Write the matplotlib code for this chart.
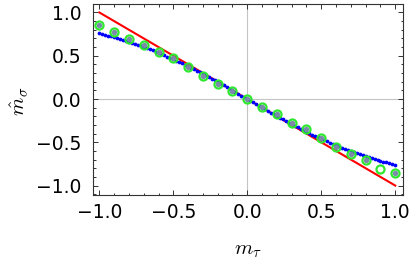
import numpy as np
import matplotlib
matplotlib.use("Agg")
import matplotlib.pyplot as plt
from matplotlib.ticker import MultipleLocator

plt.rcParams['font.family'] = ['DejaVu Sans']
plt.rcParams['mathtext.fontset'] = 'cm'

# red reference line
red_x = [-1.0, 1.0]
red_y = [1.0, -1.0]

# blue dotted curve, sampled every 0.02 from -1 to 1
blue_x = np.linspace(-1.0, 1.0, 101)
blue_y = [0.7601, 0.7512, 0.7421, 0.7327, 0.7231, 0.7133, 0.7032, 0.6929, 0.6823, 0.6714,
          0.6603, 0.6489, 0.6373, 0.6254, 0.6131, 0.6006, 0.5879, 0.5748, 0.5614, 0.5478,
          0.5339, 0.5196, 0.5051, 0.4903, 0.4752, 0.4598, 0.4441, 0.4281, 0.4118, 0.3953,
          0.3785, 0.3614, 0.3441, 0.3265, 0.3087, 0.2906, 0.2723, 0.2538, 0.2351, 0.2162,
          0.1971, 0.1779, 0.1585, 0.1390, 0.1194, 0.0996, 0.0798, 0.0599, 0.0400, 0.0200,
          0.0,
          -0.0200, -0.0400, -0.0599, -0.0798, -0.0996, -0.1194, -0.1390, -0.1585, -0.1779, -0.1971,
          -0.2162, -0.2351, -0.2538, -0.2723, -0.2906, -0.3087, -0.3265, -0.3441, -0.3614, -0.3785,
          -0.3953, -0.4118, -0.4281, -0.4441, -0.4598, -0.4752, -0.4903, -0.5051, -0.5196, -0.5339,
          -0.5478, -0.5614, -0.5748, -0.5879, -0.6006, -0.6131, -0.6254, -0.6373, -0.6489, -0.6603,
          -0.6714, -0.6823, -0.6929, -0.7032, -0.7133, -0.7231, -0.7327, -0.7421, -0.7512, -0.7601]

# green ring markers (step 0.1)
pts_x = [-1.0, -0.9, -0.8, -0.7, -0.6, -0.5, -0.4, -0.3, -0.2, -0.1, 0.0,
         0.1, 0.2, 0.3, 0.4, 0.5, 0.6, 0.7, 0.8, 0.9, 1.0]
ring_y = [0.850, 0.775, 0.696, 0.625, 0.547, 0.473, 0.374, 0.270, 0.172, 0.098, 0.0,
          -0.097, -0.178, -0.279, -0.352, -0.453, -0.555, -0.631, -0.706, -0.806, -0.852]
# gray centre dots (missing at 0.9)
dot_y = [0.850, 0.775, 0.696, 0.625, 0.547, 0.473, 0.374, 0.270, 0.172, 0.098, 0.0,
         -0.097, -0.178, -0.279, -0.352, -0.453, -0.555, -0.631, -0.706, np.nan, -0.852]

xticks = [-1.0, -0.5, 0.0, 0.5, 1.0]
yticks = [-1.0, -0.5, 0.0, 0.5, 1.0]

fig = plt.figure(figsize=(4.15, 2.64), dpi=100)
ax = fig.add_axes([0.224, 0.261, 0.747, 0.724])

ax.axhline(0, color='#c4c4c4', lw=0.8, zorder=0)
ax.axvline(0, color='#c4c4c4', lw=0.8, zorder=0)

ax.plot(red_x, red_y, color='#ff0000', lw=1.5, zorder=2)
ax.plot(blue_x, blue_y, 'o', color='#0000ff', ms=2.7, mew=0, zorder=3)
ax.plot(pts_x, ring_y, 'o', ms=5.8, mfc='none', mec='#2ee82e', mew=1.6, zorder=4)
ax.plot(pts_x, dot_y, 'o', ms=3.9, color='#7a8aa8', mew=0, zorder=5)

ax.set_xlim(-1.043, 1.052)
ax.set_ylim(-1.11, 1.098)
ax.set_xticks(xticks)
ax.set_yticks(yticks)
ax.set_xticklabels(['\u22121.0', '\u22120.5', '0.0', '0.5', '1.0'])
ax.set_yticklabels(['\u22121.0', '\u22120.5', '0.0', '0.5', '1.0'])
ax.xaxis.set_minor_locator(MultipleLocator(0.1))
ax.yaxis.set_minor_locator(MultipleLocator(0.1))
ax.tick_params(which='both', direction='in', top=True, right=True, color='#333333', width=0.7)
ax.tick_params(which='major', length=3.3, labelsize=13.5, pad=5.5)
ax.tick_params(which='minor', length=1.8)
ax.tick_params(axis='y', which='major', pad=8)
for s in ax.spines.values():
    s.set_color('#333333')
    s.set_linewidth(0.8)

fig.text(248 / 415, 1 - 250 / 264, r'$m_\tau$', fontsize=15, ha='center', va='center')
fig.text(19 / 415, 1 - 101 / 264, r'$\hat{m}_\sigma$', fontsize=15, ha='center', va='center',
         rotation=90)

fig.savefig('out.png', dpi=100)
